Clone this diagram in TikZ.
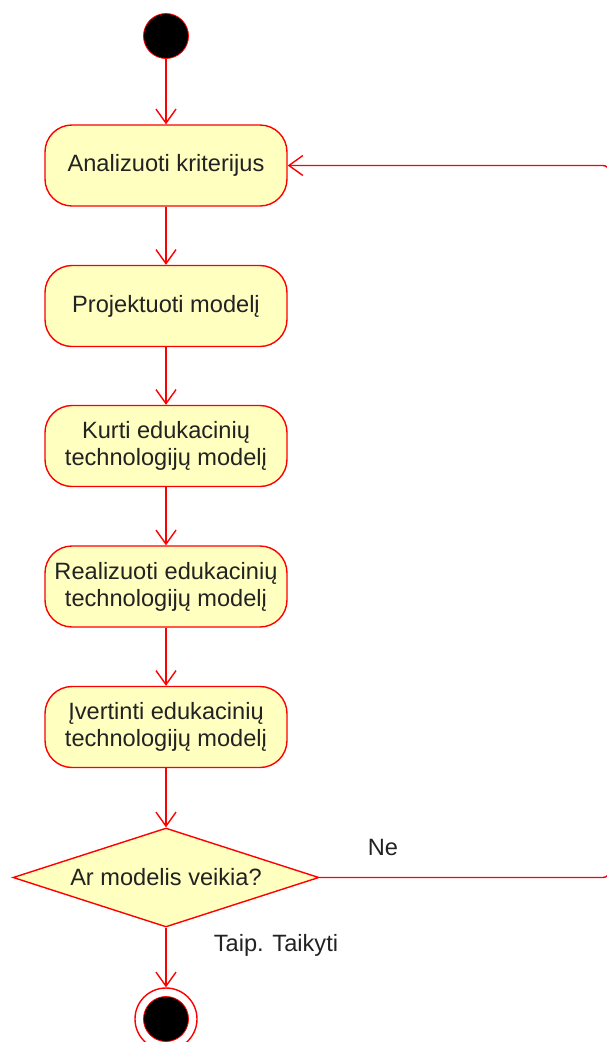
\documentclass[tikz,border=0pt]{standalone}
\usepackage{fontspec}
\setmainfont{Liberation Sans}
\usetikzlibrary{arrows.meta,shapes.geometric}
\definecolor{actfill}{HTML}{FFFFC0}
\definecolor{actline}{HTML}{FF0000}
\definecolor{txt}{HTML}{222222}
\tikzset{
  action/.style={draw=actline, fill=actfill, line width=1.4pt,
    rounded corners=27pt, minimum width=242pt, minimum height=81pt,
    inner sep=0pt, align=center, text=txt,
    font=\fontsize{23.6pt}{27pt}\selectfont},
  decision/.style={draw=actline, fill=actfill, line width=1.4pt,
    diamond, aspect=3.09, minimum width=306pt, minimum height=99pt,
    inner sep=0pt, text=txt, font=\fontsize{23.6pt}{27pt}\selectfont},
  flow/.style={draw=actline, line width=1.4pt,
    -{Straight Barb[length=14pt,width=20pt,line width=1.4pt]}},
  guard/.style={text=txt, inner sep=0pt, font=\fontsize{23.6pt}{27pt}\selectfont},
}
\begin{document}
\begin{tikzpicture}[x=1pt,y=-1pt]
\useasboundingbox (0,0) rectangle (606,1042);

% initial state
\node[circle, fill=black, draw=actline, line width=0.8pt,
      minimum size=45pt, inner sep=0pt] (start) at (166,36) {};

% activities
\node[action] (a1) at (166,165.5) {Analizuoti kriterijus};
\node[action] (a2) at (166,306) {Projektuoti modelį};
\node[action] (a3) at (166,446) {Kurti edukacinių\\technologijų modelį};
\node[action] (a4) at (166,586.5) {Realizuoti edukacinių\\technologijų modelį};
\node[action] (a5) at (166,727) {Įvertinti edukacinių\\technologijų modelį};

% decision
\node[decision] (d) at (166,877.5) {Ar modelis veikia?};

% final state
\node[circle, draw=actline, fill=white, line width=1.4pt,
      minimum size=62pt, inner sep=0pt] (endo) at (166,1019) {};
\node[circle, fill=black, draw=actline, line width=0.8pt,
      minimum size=45pt, inner sep=0pt] (endi) at (166,1019) {};

% loop-back corner points
\coordinate (c1) at (609,877.5);
\coordinate (c2) at (609,165.5);

% transitions
\draw[flow] (start) -- (a1);
\draw[flow] (a1) -- (a2);
\draw[flow] (a2) -- (a3);
\draw[flow] (a3) -- (a4);
\draw[flow] (a4) -- (a5);
\draw[flow] (a5.south) -- (d.north);
\draw[flow] (d.south) -- (endo.north);
\draw[flow, rounded corners=6pt] (d.east) -- (c1) -- (c2) -- (a1.east);

% guards
\node[guard] (ne) at (383,847) {Ne};
\node[guard] (taip) at (276,945) {Taip. Taikyti};
\end{tikzpicture}
\end{document}
